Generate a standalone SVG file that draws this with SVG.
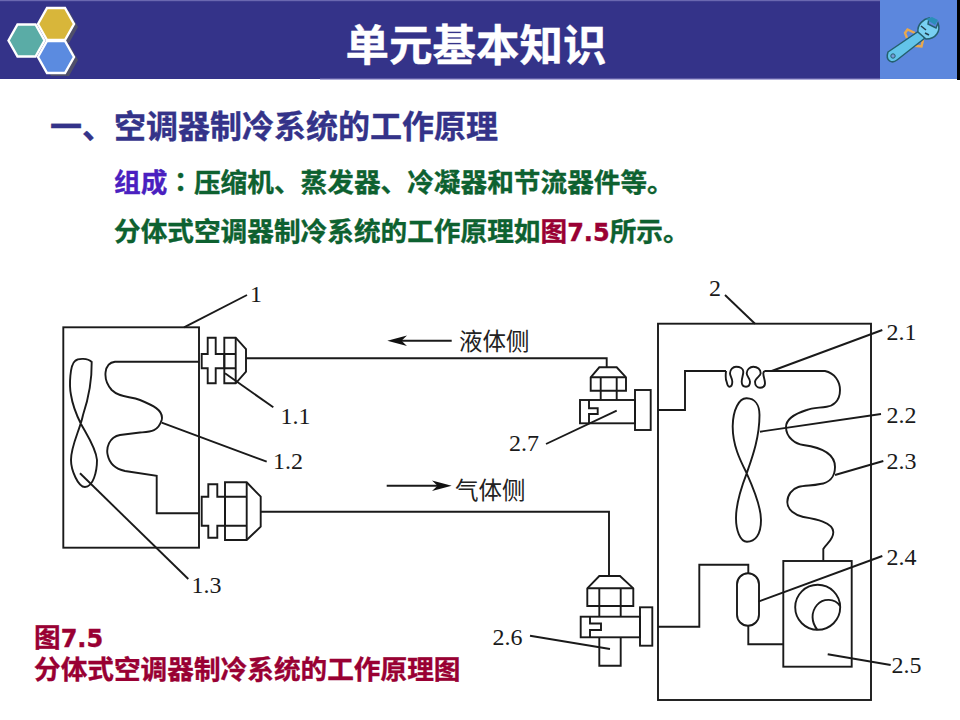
<svg xmlns="http://www.w3.org/2000/svg" width="960" height="720" viewBox="0 0 960 720">
<style>
.h{font-family:"Noto Sans CJK SC","Liberation Sans",sans-serif;font-weight:700;stroke-width:.35}
.g{fill:#0d6130;stroke:#0d6130}.r{fill:#990033;stroke:#990033}.n{fill:#343389;stroke:#343389}
.l{font-family:"Liberation Serif","Noto Sans CJK SC",serif;font-size:24px;fill:#1a1a1a}
.c{font-family:"Noto Sans CJK SC",serif;font-size:23.5px;fill:#222}
.s,.s *{fill:none;stroke:#1a1a1a;stroke-width:1.9;stroke-linejoin:miter}
.a{fill:none;stroke:#1a1a1a;stroke-width:1.9}
</style>
<defs>
<polygon id="hex" points="-18,0 -9,-16 9,-16 18,0 9,16 -9,16"/>
</defs>
<rect width="960" height="720" fill="#fff"/>
<g id="header">
<rect x="0" y="0" width="960" height="79" fill="#343389"/>
<rect x="0" y="0" width="960" height="1.2" fill="#6a68b0"/>
<rect x="320" y="78.6" width="560" height="1.2" fill="#9d9ad0"/>
<rect x="880" y="0" width="77" height="79" fill="#5c87dd"/>
<rect x="957" y="0" width="3" height="80" fill="#000"/>
<text x="476" y="61" text-anchor="middle" class="h" font-size="43.5" fill="#fff" stroke="#fff">单元基本知识</text>
</g>
<g id="logo" stroke-width="2.4">
<use href="#hex" x="60" y="27" fill="#50506a"/>
<use href="#hex" x="60" y="60" fill="#50506a"/>
<use href="#hex" x="56" y="24" fill="#d8b63a" stroke="#fff"/>
<use href="#hex" x="26.5" y="40.5" fill="#5aaca6" stroke="#fff"/>
<use href="#hex" x="56" y="57" fill="#5b8be0" stroke="#fff"/>
</g>
<g id="wrench">
<g stroke="#e9a94e" stroke-width="2.4" fill="none">
<polyline points="907,38 905,33 907.5,29.5 915,33"/>
<polyline points="912,45.5 921.5,46.5 923,40"/>
</g>
<path d="M888,52 L919,31 L925,38 L897,60 C892,64 885,61 888,52Z" fill="#63c4ea" stroke="#24606f" stroke-width="1.5"/>
<path d="M918,32 C917,24 924,19 929,18 L928,24 L936,28 L938,23 C941,31 936,39 926,39 Z" fill="#79d0f2" stroke="#24606f" stroke-width="1.5"/>
<path d="M926,19 L932,17 L938,20 L935,25 Z" fill="#2a8fb8"/>
<path d="M921,26L926,30M925,33L929,35" stroke="#24404f" stroke-width="1.6"/>
<circle cx="893" cy="56" r="2.2" fill="#7a9ad8" stroke="#24606f"/>
</g>
<g id="text">
<text x="50" y="138" class="h n" font-size="32">一、空调器制冷系统的工作原理</text>
<text x="114" y="192" class="h g" font-size="26.67"><tspan fill="#4a1fc0" stroke="#4a1fc0">组成</tspan><tspan font-family="'Noto Sans CJK TC'">：</tspan>压缩机、蒸发器、冷凝器和节流器件等。</text>
<text x="114" y="240.5" class="h g" font-size="26.67">分体式空调器制冷系统的工作原理如<tspan class="r">图</tspan><tspan class="r" font-family="'DejaVu Sans'" font-size="24">7.5</tspan>所示。</text>
</g>
<g id="connectors">
<g id="pipes" class="a">
<path d="M246,358.3H606.7V367"/>
<path d="M260.7,511.7H609V576"/>
<path d="M658,410H685V371H726"/>
<path d="M658,626.7H699.3V564.7H748.3V573.3"/>
<path d="M748.3,625.7V644.3H783.3"/>
<path d="M199,361.7H115C104,363 102,379 111.7,390C120,398 130,396 140,400C152,405 164,410 161.7,420C158,432 150,431.7 140,432.5L120,435C109,437 106,448 107.7,455C110,466 118,469.5 125,471L156.7,475.7V513.3H199"/>
<path d="M765,371H825C835,373 840,382 840,390C840,402 832,406 826.7,406.7C818,408 812,408 806.7,410C794,414 786,420 786,427C786,438 796,444 803.3,445C818,447 835,452 835,467C835,478 828,483 820,484C812,486 805,485 798.3,487C792,489 787.3,495 787.3,502C787.3,510 795,515 803.3,517C815,519 833,522 833.3,532C833.5,540 826,544 823.3,549V560.7"/>
<path d="M726,371C725.5,376 725.5,380 726.7,382C727.5,385.5 728,386.7 729.3,386.7C731,386.7 732.3,385 732.3,381.7C732.3,378 730,376 730,373.3C730,369.5 733,366.7 736,366.7C740,366.7 743.3,368.5 743.3,371.7C743.3,375 741.7,378 741.7,381.7C741.7,385 743.5,386.7 746,386.7C748.5,386.7 750,385 750,381.7C750,378 746.7,376.5 746.7,373.3C746.7,369.5 750,366.7 753.3,366.7C757.5,366.7 760.7,369.5 760.7,373.3C760.7,376 755,378.5 755,381.7C755,385.5 757.5,387.7 760,387.7C763,387.7 765,386 765,383.3C765,379.5 763.3,377 763.3,373.3C763.3,372 764,371.3 765,371"/>
</g>
<g id="leaders" class="a">
<path d="M184,327.3L247,295"/>
<path d="M225,373.3L273.3,407.3"/>
<path d="M161.7,422.7L266.7,461.7"/>
<path d="M80,473.3L188.3,579"/>
<path d="M755,323.7L725,295"/>
<path d="M771.7,371L882.3,330"/>
<path d="M760,431.7L881,414"/>
<path d="M835,475L883.3,461"/>
<path d="M758.3,601.7L882.3,556"/>
<path d="M827.7,654.3L890.7,665"/>
<path d="M616.7,410.7L546,444"/>
<path d="M530,635.7L610,649"/>
</g>
<g id="flow-arrows">
<path d="M451.7,340.7H400" class="a"/>
<path d="M387.3,340.7L407,335.5L401.5,340.7L407,346Z" fill="#111"/>
<path d="M386.7,485.7H440" class="a"/>
<path d="M451.7,485.7L432,480.5L437.5,485.7L432,491Z" fill="#111"/>
</g>
</g>
<g id="unit-1" class="s">
<rect x="63.3" y="327.3" width="135.7" height="220.4"/>
</g>
<g id="fan-1.3" class="s">
<path d="M91.7,362C88,358 78,358 75,361C70,365 69,385 71,395C73,408 78,418 81,424C87,435 96,448 97,460C97,472 93,487 85,487C78,487 71,470 71,460C71,445 80,430 83,415C88,400 92,385 91.7,362Z"/>
</g>
<g id="fitting-1.1" class="s">
<path d="M201.7,354H207.7V337.7H215.7V354H224.3V368.3H215.7V383.3H207.7V368.3H201.7Z"/>
<path d="M224.3,337.7H235.7L246,349V371.7L235.7,383.3H224.3Z"/>
<path d="M235.7,337.7V383.3M224.3,354H235.7M224.3,368.3H235.7"/>
</g>
<g id="fitting-1.1b" class="s">
<path d="M201.7,496.7H208.3V484.3H217.3V496.7H225V525.7H217.3V537.7H208.3V525.7H201.7Z"/>
<path d="M225,482.3H246.7L260.7,496.7V526.7L246.7,540H225Z"/>
<path d="M246.7,482.3V540M225,496.7H246.7M225,525.7H246.7"/>
</g>
<g id="unit-2" class="s">
<rect x="658" y="323.7" width="213" height="376.3"/>
</g>
<g id="fan-2.2" class="s">
<path d="M746.7,398.3C739,398 733,410 732.7,426C732.5,445 740,460 746.7,473.3C752,485 761,505 761,520C761,535 755,541.7 747,541.7C740,541.7 736,530 736,518C736,505 741,488 746.7,473.3C752,458 759.5,438 759.5,415C759.5,405 755,398.5 746.7,398.3Z"/>
</g>
<g id="accumulator-2.4" class="s">
<rect x="737" y="573.3" width="22" height="52.4" rx="11" ry="11"/>
</g>
<g id="compressor-2.5" class="s">
<rect x="783.3" y="561" width="68.4" height="105.7"/>
<circle cx="817.7" cy="607.3" r="22.5"/>
<path d="M817.5,630C811,622 811,612 817,605C823,598 835,598 840,606"/>
</g>
<g id="valve-2.7" class="s">
<path d="M590.7,377.3L599.3,367.3H616.7L626,377.3V390.7H590.7Z"/>
<path d="M590.7,377.3H626M600.7,377.3V400M616.7,377.3V400"/>
<rect x="580" y="400" width="55" height="23.3"/>
<rect x="635" y="390" width="15.7" height="40"/>
<path d="M589,400V408.3H597.7V414H589V423.3"/>
</g>
<g id="valve-2.6" class="s">
<path d="M587.3,588.3L599.3,576H620L633.3,588.3V606H587.3Z"/>
<path d="M587.3,588.3H633.3M599.3,588.3V616.7M620.7,588.3V616.7"/>
<rect x="580.7" y="616.7" width="59.3" height="20.6"/>
<rect x="640" y="607.3" width="12.3" height="38.4"/>
<path d="M590,616.7V623.5H601V630H590V637.3"/>
<path d="M599.3,637.3V665.7H620.7V637.3"/>
</g>
<g id="labels">
<text class="l" x="250" y="302">1</text>
<text class="l" x="280.5" y="423.5">1.1</text>
<text class="l" x="273" y="469">1.2</text>
<text class="l" x="191.5" y="593">1.3</text>
<text class="l" x="709" y="296">2</text>
<text class="l" x="886.5" y="339.5">2.1</text>
<text class="l" x="886.5" y="422.5">2.2</text>
<text class="l" x="886.5" y="468.5">2.3</text>
<text class="l" x="886.5" y="564.5">2.4</text>
<text class="l" x="891.5" y="672.5">2.5</text>
<text class="l" x="492.5" y="644.5">2.6</text>
<text class="l" x="509" y="450.5">2.7</text>
<text class="c" x="459" y="350">液体侧</text>
<text class="c" x="455" y="498.5">气体侧</text>
</g>
<g id="caption">
<text class="h r" font-size="26.67"><tspan x="34" y="647">图</tspan><tspan font-family="'DejaVu Sans'" font-size="24">7.5</tspan><tspan x="34" y="679">分体式空调器制冷系统的工作原理图</tspan></text>
</g>
</svg>
